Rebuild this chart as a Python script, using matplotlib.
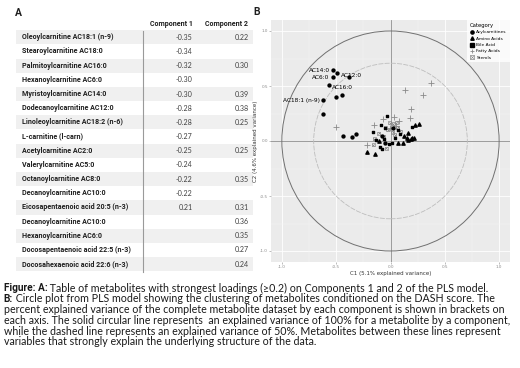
import matplotlib
matplotlib.use('Agg')
import matplotlib.pyplot as plt
from matplotlib.lines import Line2D
from matplotlib.patches import Rectangle, Circle
import numpy as np

# ---- table data (panel A) ----
metabolites = ['Oleoylcarnitine AC18:1 (n-9)', 'Stearoylcarnitine AC18:0', 'Palmitoylcarnitine AC16:0',
               'Hexanoylcarnitine AC6:0', 'Myristoylcarnitine AC14:0', 'Dodecanoylcarnitine AC12:0',
               'Linoleoylcarnitine AC18:2 (n-6)', 'L-carnitine (l-carn)', 'Acetylcarnitine AC2:0',
               'Valerylcarnitine AC5:0', 'Octanoylcarnitine AC8:0', 'Decanoylcarnitine AC10:0',
               'Eicosapentaenoic acid 20:5 (n-3)', 'Decanoylcarnitine AC10:0', 'Hexanoylcarnitine AC6:0',
               'Docosapentaenoic acid 22:5 (n-3)', 'Docosahexaenoic acid 22:6 (n-3)']
comp1 = [-0.35, -0.34, -0.32, -0.30, -0.30, -0.28, -0.28, -0.27, -0.25, -0.24, -0.22, -0.22, 0.21,
         None, None, None, None]
comp2 = [0.22, None, 0.30, None, 0.39, 0.38, 0.25, None, 0.25, None, 0.35, None, 0.31,
         0.36, 0.35, 0.27, 0.24]

# ---- circle plot data (panel B) ----
acyl_x = [-0.53, -0.49, -0.53, -0.38, -0.57, -0.62, -0.50, -0.45, -0.62, -0.435, -0.35, -0.32,
          -0.08, 0.02, -0.05]
acyl_y = [0.645, 0.615, 0.58, 0.58, 0.51, 0.37, 0.40, 0.42, 0.25, 0.045, 0.04, 0.06,
          0.05, 0.12, -0.02]
acyl_labels = {0: 'AC14:0', 1: 'AC12:0', 2: 'AC6:0', 4: 'AC16:0', 5: 'AC18:1 (n-9)'}

amino_x = [0.265, 0.23, 0.16, 0.155, 0.19, 0.22, 0.115, 0.07, -0.215, -0.145, -0.11, 0.165, 0.20, 0.12]
amino_y = [0.155, 0.145, 0.07, 0.025, 0.015, 0.025, -0.015, -0.02, -0.10, -0.12, 0.0, 0.01, 0.03, 0.05]

bile_x = [-0.03, 0.195, -0.09, -0.16, 0.01, -0.015, -0.06, -0.135, -0.08, 0.065, 0.04, -0.05, 0.09, -0.10]
bile_y = [0.23, 0.13, 0.145, 0.085, -0.02, -0.03, 0.015, 0.01, -0.075, 0.10, 0.03, 0.12, 0.06, -0.05]

fatty_x = [0.13, 0.375, 0.30, 0.19, 0.18, -0.50, -0.22, -0.155, -0.07, 0.03, 0.075, -0.005, 0.05]
fatty_y = [0.46, 0.525, 0.415, 0.29, 0.205, 0.125, -0.035, 0.145, 0.20, 0.22, 0.18, 0.12, 0.14]

sterol_x = [-0.005, 0.025, 0.055, -0.05, -0.025, 0.02, 0.065, -0.15, -0.16, -0.06, 0.04, -0.04, 0.09, -0.11]
sterol_y = [0.165, 0.155, 0.165, 0.125, 0.10, 0.08, 0.125, 0.02, -0.035, 0.045, 0.055, -0.065, 0.09, 0.07]

categories = ['Acylcarnitines', 'Amino Acids', 'Bile Acid', 'Fatty Acids', 'Sterols']

W, H = 520, 368
fig = plt.figure(figsize=(W / 100, H / 100), dpi=100)
fig.patch.set_facecolor('white')

# full-figure axes in pixel coordinates for table and caption
base = fig.add_axes([0, 0, 1, 1])
base.set_xlim(0, W)
base.set_ylim(H, 0)
base.axis('off')

tfont = 'Roboto'
cfont = 'Lato'
txtcol = '#1f1f1f'
fig.canvas.draw()
renderer = fig.canvas.get_renderer()

# pick table font size so the first name is ~92 px wide
probe = base.text(0, 0, metabolites[0], fontsize=5, fontweight='bold', family=tfont)
tab_fs = 5 * 92.0 / probe.get_window_extent(renderer).width
probe.remove()

base.text(15, 13, 'A', fontsize=7.5, fontweight='bold', family=tfont, va='center', color=txtcol)
base.text(253, 12, 'B', fontsize=7.5, fontweight='bold', family=tfont, va='center', color=txtcol)

row0 = 37.3
row_h = 14.18
base.text(192.5, 23.5, 'Component 1', fontsize=tab_fs, fontweight='bold', family=tfont,
          ha='right', va='center', color=txtcol)
base.text(248, 23.5, 'Component 2', fontsize=tab_fs, fontweight='bold', family=tfont,
          ha='right', va='center', color=txtcol)
for i, name in enumerate(metabolites):
    y = row0 + i * row_h
    if i % 2 == 0:
        base.add_patch(Rectangle((16, y - row_h / 2), 237, row_h, facecolor='#f0f0f0',
                                 edgecolor='none', zorder=0))
    base.text(22, y, name, fontsize=tab_fs, fontweight='bold', family=tfont, va='center', color=txtcol)
    if comp1[i] is not None:
        base.text(192.5, y, '%.2f' % comp1[i], fontsize=tab_fs, family=cfont, ha='right',
                  va='center', color='#404040')
    if comp2[i] is not None:
        base.text(249, y, '%.2f' % comp2[i], fontsize=tab_fs, family=cfont, ha='right',
                  va='center', color='#404040')
base.plot([142.7, 142.7], [31, 272], color='#9a9a9a', lw=0.8)

# caption
cap_lines = [
    ('Figure: A:', ' Table of metabolites with strongest loadings (\u22650.2) on Components 1 and 2 of the PLS model.'),
    ('B:', ' Circle plot from PLS model showing the clustering of metabolites conditioned on the DASH score. The'),
    ('', 'percent explained variance of the complete metabolite dataset by each component is shown in brackets on'),
    ('', 'each axis. The solid circular line represents  an explained variance of 100% for a metabolite by a component,'),
    ('', 'while the dashed line represents an explained variance of 50%. Metabolites between these lines represent'),
    ('', 'variables that strongly explain the underlying structure of the data.'),
]
probe = base.text(0, 0, cap_lines[3][1], fontsize=7, family=cfont)
cap_fs = 7 * 506.0 / probe.get_window_extent(renderer).width
probe.remove()
for k, (bold, rest) in enumerate(cap_lines):
    y = 288.3 + k * 10.7
    x = 3.5
    if bold:
        t = base.text(x, y, bold, fontsize=cap_fs * 0.95, fontweight='bold', family=tfont,
                      va='center', color='#1a1a1a')
        bb = t.get_window_extent(renderer)
        x = x + bb.width
    base.text(x, y, rest, fontsize=cap_fs, family=cfont, va='center', color='#1a1a1a')

# ---- panel B ----
ax = fig.add_axes([271 / W, 1 - 262 / H, 239 / W, 242 / H])
ax.set_facecolor('#ebebeb')
ax.set_xlim(-1.1, 1.1)
ax.set_ylim(-1.1, 1.1)
for v in [-1, -0.5, 0, 0.5, 1]:
    ax.axvline(v, color='white', lw=0.6, zorder=0)
    ax.axhline(v, color='white', lw=0.6, zorder=0)
for v in [-0.75, -0.25, 0.25, 0.75]:
    ax.axvline(v, color='#f5f5f5', lw=0.3, zorder=0)
    ax.axhline(v, color='#f5f5f5', lw=0.3, zorder=0)
ax.axvline(0, color='#8c8c8c', lw=0.6, zorder=1)
ax.axhline(0, color='#8c8c8c', lw=0.6, zorder=1)
ax.add_patch(Circle((0, 0), 1.0, fill=False, edgecolor='#707070', lw=0.7, zorder=1))
ax.add_patch(Circle((0, 0), np.sqrt(0.5), fill=False, edgecolor='#bdbdbd', lw=0.6,
                    linestyle=(0, (6, 1.5)), zorder=1))

ax.scatter(fatty_x, fatty_y, marker='+', s=14, color='#8a8a8a', linewidths=0.6, zorder=3)
ax.scatter(sterol_x, sterol_y, marker='s', s=4.5, facecolor='none', edgecolor='#8a8a8a',
           linewidths=0.5, zorder=3)
ax.scatter(sterol_x, sterol_y, marker='x', s=3.5, color='#8a8a8a', linewidths=0.4, zorder=3)
ax.scatter(bile_x, bile_y, marker='s', s=4.5, color='black', zorder=4)
ax.scatter(amino_x, amino_y, marker='^', s=5.5, color='black', zorder=4)
ax.scatter(acyl_x, acyl_y, marker='o', s=4.5, color='black', zorder=4)
for i, lab in acyl_labels.items():
    if lab in ('AC12:0', 'AC16:0'):
        ax.text(acyl_x[i] + 0.03, acyl_y[i] - 0.02, lab, fontsize=4.2, ha='left', va='center')
    else:
        ax.text(acyl_x[i] - 0.03, acyl_y[i], lab, fontsize=4.2, ha='right', va='center')

ticks = [-1.0, -0.5, 0.0, 0.5, 1.0]
ax.set_xticks(ticks)
ax.set_yticks(ticks)
ax.set_xticklabels(['-1.0', '-0.5', '0.0', '0.5', '1.0'])
ax.set_yticklabels(['-1.0', '-0.5', '0.0', '0.5', '1.0'])
ax.tick_params(labelsize=3, colors='#8a8a8a', length=1.2, width=0.4, pad=1)
for s in ax.spines.values():
    s.set_visible(False)
ax.set_xlabel('C1 (5.1% explained variance)', fontsize=4, labelpad=1.5, color='#333333')
ax.set_ylabel('C2 (4.6% explained variance)', fontsize=4, labelpad=1.5, color='#333333')

handles = [
    Line2D([], [], marker='o', ls='none', color='black', markersize=2.3),
    Line2D([], [], marker='^', ls='none', color='black', markersize=2.5),
    Line2D([], [], marker='s', ls='none', color='black', markersize=2.3),
    Line2D([], [], marker='+', ls='none', color='#8a8a8a', markersize=3.5, markeredgewidth=0.6),
    (Line2D([], [], marker='s', ls='none', markerfacecolor='none', markeredgecolor='#8a8a8a',
            markersize=2.5, markeredgewidth=0.5),
     Line2D([], [], marker='x', ls='none', color='#8a8a8a', markersize=2.2, markeredgewidth=0.4)),
]
leg = ax.legend(handles, categories, title='Category', loc='upper right', fontsize=3.2,
                title_fontsize=3.8, frameon=True, fancybox=False, borderpad=0.6,
                handlelength=1.0, handletextpad=0.6, labelspacing=0.5, borderaxespad=0.1)
leg.get_frame().set_edgecolor('none')
leg.get_frame().set_facecolor('white')
leg._legend_box.align = 'left'

fig.savefig('out.png', dpi=100)
